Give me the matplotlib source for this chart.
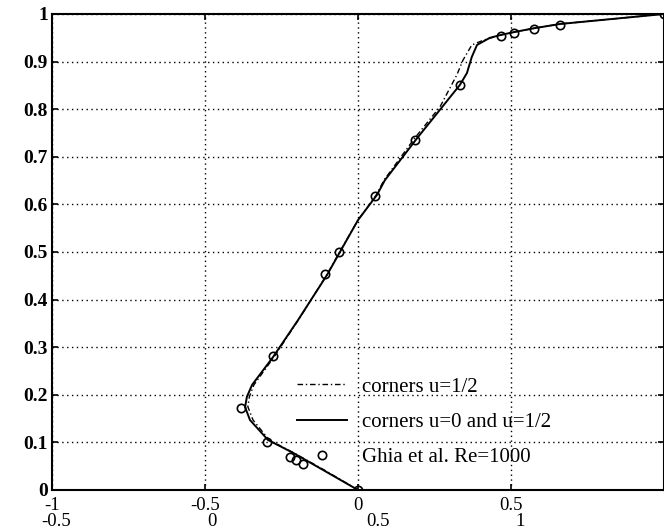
import matplotlib
matplotlib.use('Agg')
import matplotlib.pyplot as plt

plt.rcParams['font.family'] = ['Liberation Serif', 'DejaVu Serif']

# corners u=0 and u=1/2 (solid)
u_solid = [0, -0.114, -0.212, -0.294, -0.353, -0.369, -0.363, -0.346, -0.278, -0.196,
           -0.15, -0.101, -0.059, 0, 0.062, 0.088, 0.193, 0.333, 0.356, 0.372, 0.389,
           0.431, 0.467, 0.510, 0.575, 0.66, 1.0]
y_solid = [0, 0.042, 0.078, 0.105, 0.147, 0.174, 0.196, 0.221, 0.279, 0.357,
           0.403, 0.452, 0.5, 0.567, 0.62, 0.651, 0.739, 0.851, 0.876, 0.910, 0.935,
           0.950, 0.956, 0.962, 0.970, 0.979, 1.0]

# corners u=1/2 (dash-dot)
u_dash = [0, -0.11, -0.21, -0.29, -0.343, -0.36, -0.355, -0.34, -0.275, -0.195,
          -0.15, -0.102, -0.06, 0, 0.06, 0.085, 0.185, 0.268, 0.323, 0.343, 0.372,
          0.41, 0.467, 0.51, 0.575, 0.66, 1.0]
y_dash = [0, 0.042, 0.078, 0.105, 0.147, 0.175, 0.196, 0.221, 0.279, 0.357,
          0.403, 0.452, 0.5, 0.567, 0.62, 0.651, 0.739, 0.805, 0.872, 0.903, 0.935,
          0.945, 0.956, 0.962, 0.970, 0.979, 1.0]

# Ghia et al. Re=1000
y_ghia = [1.0, 0.9766, 0.9688, 0.9609, 0.9531, 0.8516, 0.7344, 0.6172, 0.5, 0.4531,
          0.2813, 0.1719, 0.1016, 0.0703, 0.0625, 0.0547, 0.0]
u_ghia = [1.0, 0.65928, 0.57492, 0.51117, 0.46604, 0.33304, 0.18719, 0.05702, -0.0608,
          -0.10648, -0.27805, -0.38289, -0.2973, -0.2222, -0.20196, -0.18109, 0.0]

xticks_top = [-1, -0.5, 0, 0.5]
xlabels_top = ['-1', '-0.5', '0', '0.5']
xticks_bot = [-0.987, -0.477, 0.065, 0.53]
xlabels_bot = ['-0.5', '0', '0.5', '1']
yticks = [0, 0.1, 0.2, 0.3, 0.4, 0.5, 0.6, 0.7, 0.8, 0.9, 1]
ylabels = ['0', '0.1', '0.2', '0.3', '0.4', '0.5', '0.6', '0.7', '0.8', '0.9', '1']

fig = plt.figure(figsize=(6.64, 5.31), dpi=100)
ax = fig.add_axes([52/664, 41/531, 612/664, 476/531])

ax.plot(u_dash, y_dash, color='black', lw=1.0, dashes=(4, 2, 1, 2), label='corners u=1/2')
ax.plot(u_solid, y_solid, color='black', lw=1.4, label='corners u=0 and u=1/2')
ax.plot(u_ghia, y_ghia, 'o', color='black', mfc='none', ms=6, mew=1.2, ls='none',
        label='Ghia et al. Re=1000')

ax.set_xlim(-1, 1)
ax.set_ylim(0, 1)
ax.set_xticks([-1, -0.5, 0, 0.5, 1])
ax.set_xticklabels([])
ax.set_yticks(yticks)
ax.set_yticklabels(ylabels, fontsize=14, fontweight='bold')
ax.tick_params(direction='in', top=True, right=True, length=4, width=1.2, pad=3)
ax.grid(True, color='black', linestyle=(0, (1, 2.5)), linewidth=1.0)
for s in ax.spines.values():
    s.set_linewidth(1.5)

# two rows of x labels, as in the original scan
tr = ax.get_xaxis_transform()
for x, t in zip(xticks_top, xlabels_top):
    ax.text(x, -0.032, t, transform=tr, ha='center', va='center', fontsize=13.5, clip_on=False)
for x, t in zip(xticks_bot, xlabels_bot):
    ax.text(x, -0.066, t, transform=tr, ha='center', va='center', fontsize=13.5, clip_on=False)

ax.legend(loc='upper left', bbox_to_anchor=(0.40, 0.237), frameon=False, fontsize=15,
          handlelength=2.4, handletextpad=0.72, labelspacing=0.75, borderpad=0,
          borderaxespad=0)

fig.savefig('out.png', dpi=100)
